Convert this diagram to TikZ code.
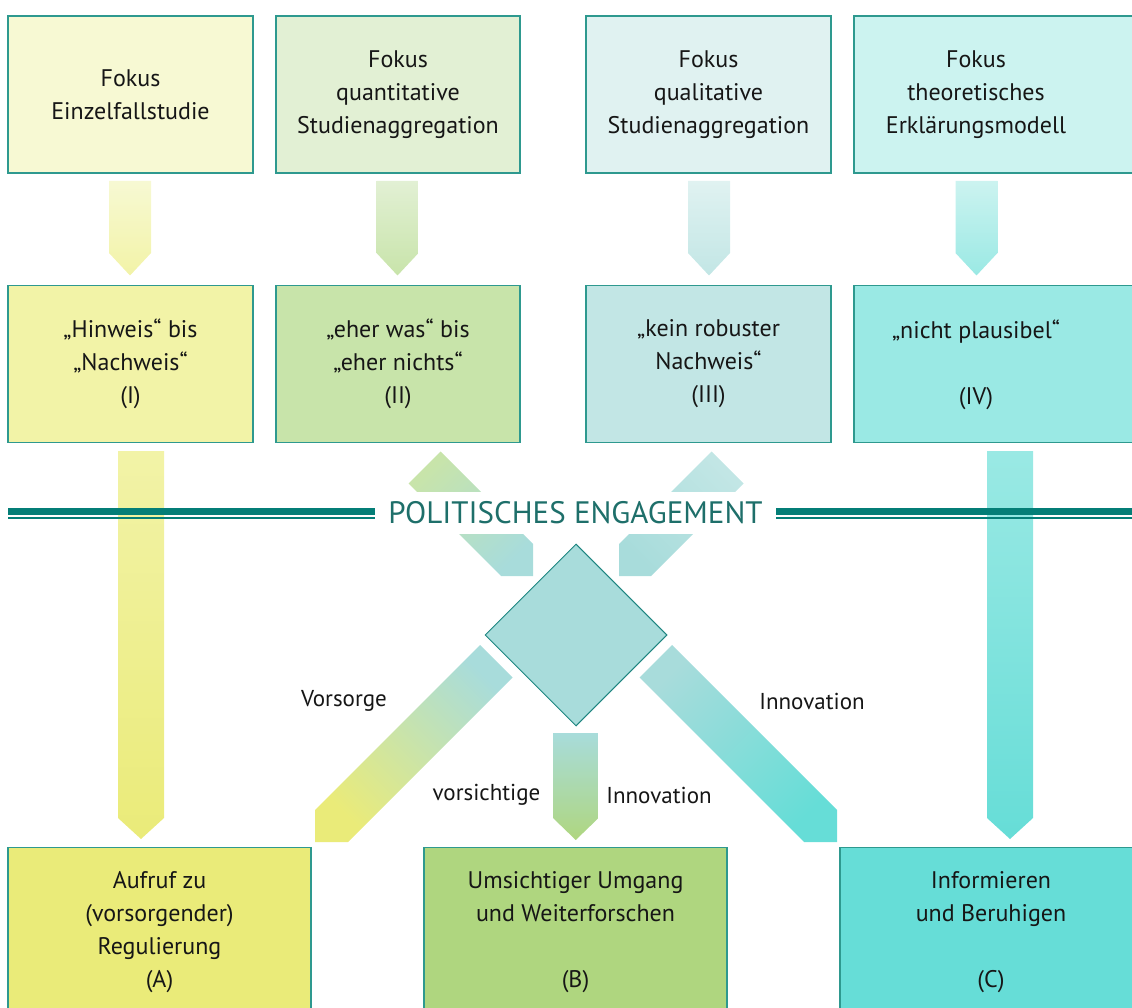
\documentclass[tikz,border=0pt]{standalone}
\usepackage{fontspec}
\setmainfont{PT Sans}
\usetikzlibrary{shapes.geometric}
\definecolor{bordc}{HTML}{2E998F}
\definecolor{diamB}{HTML}{1F8580}
\definecolor{lineteal}{HTML}{047E77}
\definecolor{titlec}{HTML}{1E6F6A}
\definecolor{txtc}{HTML}{161616}
\definecolor{cAt}{HTML}{F7F9D3}
\definecolor{cBt}{HTML}{E2F0D4}
\definecolor{cCt}{HTML}{E0F2F1}
\definecolor{cDt}{HTML}{CCF3F0}
\definecolor{cAm}{HTML}{F2F3A7}
\definecolor{cBm}{HTML}{C8E4AA}
\definecolor{cCm}{HTML}{C2E6E5}
\definecolor{cDm}{HTML}{9AE9E4}
\definecolor{resA}{HTML}{EAEB79}
\definecolor{resB}{HTML}{AFD67F}
\definecolor{resC}{HTML}{66DDD7}
\definecolor{diam}{HTML}{A8DCDB}
\begin{document}
\begin{tikzpicture}[x=1pt,y=-1pt,
  box/.style={draw=bordc, line width=1.3pt, rectangle, inner sep=0pt, align=center,
    text=txtc, font=\fontsize{24}{33}\selectfont},
  boxtxt/.style={inner sep=0pt, align=center, text=txtc, font=\fontsize{24}{33}\selectfont},
  lbl/.style={inner sep=0pt, text=txtc, font=\fontsize{23}{27}\selectfont},
  ruleA/.style={draw=lineteal, line width=7pt},
  ruleB/.style={draw=lineteal, line width=2pt},
]
\useasboundingbox (0,0) rectangle (1132,1008);
\clip (0,0) rectangle (1132,1008);

% ---------- top row ----------
\node[box, fill=cAt, minimum width=245, minimum height=157] (f1) at (130.5,94.5) {Fokus\\Einzelfallstudie};
\node[box, fill=cBt, minimum width=244, minimum height=157] (f2) at (398,94.5) {Fokus\\quantitative\\Studienaggregation};
\node[box, fill=cCt, minimum width=245, minimum height=157] (f3) at (708.5,94.5) {Fokus\\qualitative\\Studienaggregation};
\node[box, fill=cDt, minimum width=286, minimum height=157] (f4) at (997,94.5) {};
\node[boxtxt] (f4t) at (976,94.5) {Fokus\\theoretisches\\Erklärungsmodell};

% ---------- second row ----------
\node[box, fill=cAm, minimum width=245, minimum height=157] (e1) at (130.5,364) {„Hinweis“ bis\\„Nachweis“\\(I)};
\node[box, fill=cBm, minimum width=244, minimum height=157] (e2) at (398,364) {„eher was“ bis\\„eher nichts“\\(II)};
\node[box, fill=cCm, minimum width=245, minimum height=157] (e3) at (708.5,364) {„kein robuster\\Nachweis“\\(III)};
\node[box, fill=cDm, minimum width=286, minimum height=157] (e4) at (997,364) {};
\node[boxtxt] (e4t) at (976,365) {„nicht plausibel“\\[33pt](IV)};

% ---------- small arrows ----------
\shade[top color=cAt, bottom color=cAm] (109,181) -- (151,181) -- (151,253) -- (130,275.5) -- (109,253) -- cycle;
\shade[top color=cBt, bottom color=cBm] (376.5,181) -- (418.5,181) -- (418.5,253) -- (397.5,275.5) -- (376.5,253) -- cycle;
\shade[top color=cCt, bottom color=cCm] (688,181) -- (730,181) -- (730,253) -- (709,275.5) -- (688,253) -- cycle;
\shade[top color=cDt, bottom color=cDm] (955.5,181) -- (997.5,181) -- (997.5,253) -- (976.5,275.5) -- (955.5,253) -- cycle;

% ---------- long arrows ----------
\shade[top color=cAm, bottom color=resA] (118,451) -- (164,451) -- (164,818) -- (141,839) -- (118,818) -- cycle;
\shade[top color=cDm, bottom color=resC] (987,451) -- (1033,451) -- (1033,818) -- (1010,839) -- (987,818) -- cycle;

% ---------- diagonal arrows into diamond ----------
\shade[top color=cBm, bottom color=diam, shading angle=45]
  (440.5,451.5) -- (408.5,483.5) -- (501,576) -- (533,576) -- (533,544) -- cycle;
\shade[top color=cCm, bottom color=diam, shading angle=-45]
  (711.5,451.5) -- (743.5,483.5) -- (651,576) -- (619,576) -- (619,544) -- cycle;

% ---------- diagonal arrows out of diamond ----------
\shade[top color=diam, bottom color=resA, shading angle=-45]
  (480,645) -- (512.5,677.5) -- (348,842) -- (315,842) -- (315,810) -- cycle;
\shade[top color=diam, bottom color=resC, shading angle=45]
  (672,645) -- (639.5,677.5) -- (804,842) -- (837,842) -- (837,810) -- cycle;
\shade[top color=diam, bottom color=resB] (553,733) -- (598.5,733) -- (598.5,818) -- (575.75,840) -- (553,818) -- cycle;

% ---------- diamond ----------
\node[diamond, aspect=1, draw=diamB, line width=1pt, fill=diam, minimum width=182, minimum height=182, inner sep=0pt] (dia) at (576,635) {};

% ---------- title and rules ----------
\node[fill=white, inner xsep=6pt, minimum height=42, text=titlec, font=\fontsize{31}{31}\selectfont] (title) at (575.5,512.5) {POLITISCHES ENGAGEMENT};
\coordinate (lA) at (8,511.5);
\coordinate (lB) at (375,511.5);
\coordinate (rA) at (776,511.5);
\coordinate (rB) at (1140,511.5);
\draw[ruleA] (lA) -- (lB);
\draw[ruleB] ([yshift=-6.8pt]lA) -- ([yshift=-6.8pt]lB);
\draw[ruleA] (rA) -- (rB);
\draw[ruleB] ([yshift=-6.8pt]rA) -- ([yshift=-6.8pt]rB);

% ---------- labels ----------
\node[lbl] (l1) at (344,701) {Vorsorge};
\node[lbl] (l2) at (812,701) {Innovation};
\node[lbl] (l3) at (486.5,795) {vorsichtige};
\node[lbl] (l4) at (659,795) {Innovation};

% ---------- bottom row ----------
\node[box, fill=resA, minimum width=303, minimum height=170] (rA1) at (159.5,932.5) {Aufruf zu\\(vorsorgender)\\Regulierung\\(A)};
\node[box, fill=resB, minimum width=303, minimum height=170] (rB1) at (575.5,932.5) {Umsichtiger Umgang\\und Weiterforschen\\[33pt](B)};
\node[box, fill=resC, minimum width=302, minimum height=170] (rC1) at (991,932.5) {Informieren\\und Beruhigen\\[33pt](C)};
\end{tikzpicture}
\end{document}
